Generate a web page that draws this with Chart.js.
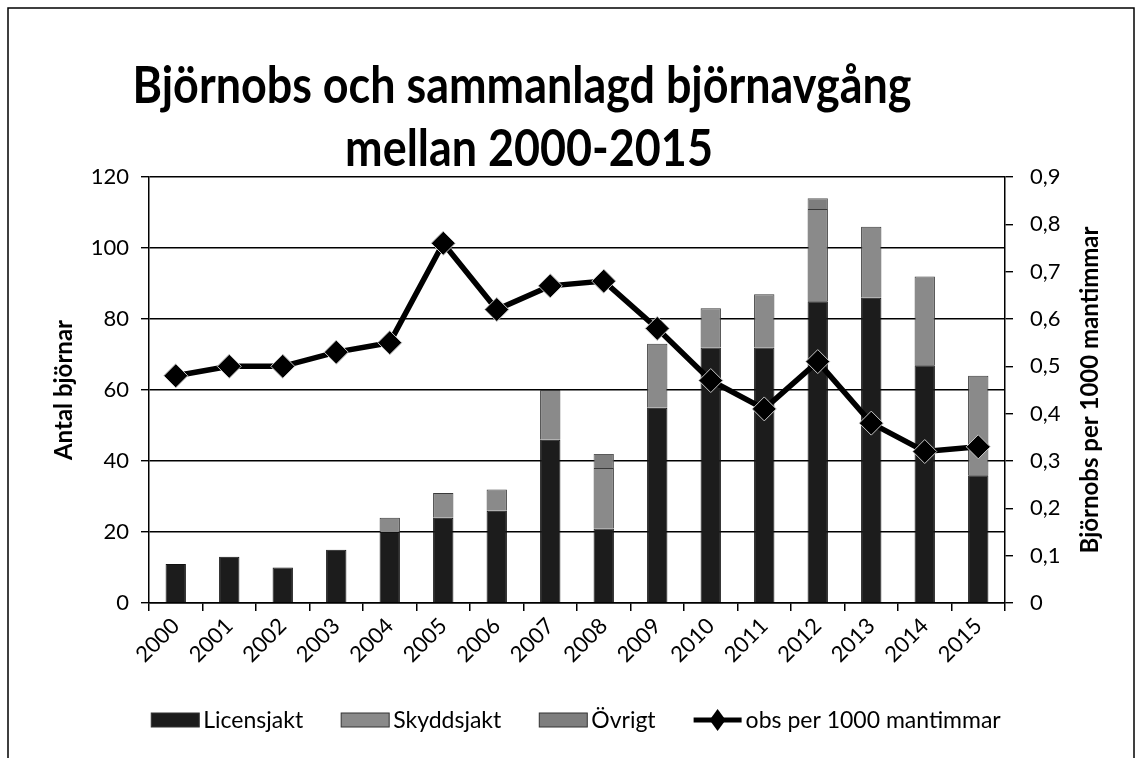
<!DOCTYPE html>
<html>
<head>
<meta charset="utf-8">
<script src="https://cdn.jsdelivr.net/npm/chart.js@4/dist/chart.umd.min.js"></script>
<style>
  html, body { margin: 0; padding: 0; background: #fff; }
  #c { display: block; }
</style>
</head>
<body>
<canvas id="c" width="1141" height="758"></canvas>
<script>
// data
const years = ['2000','2001','2002','2003','2004','2005','2006','2007','2008','2009','2010','2011','2012','2013','2014','2015'];
const licensjakt = [11, 13, 10, 15, 20, 24, 26, 46, 21, 55, 72, 72, 85, 86, 67, 36];
const skyddsjakt = [0, 0, 0, 0, 4, 7, 6, 14, 17, 18, 11, 15, 26, 20, 25, 28];
const ovrigt     = [0, 0, 0, 0, 0, 0, 0, 0, 4, 0, 0, 0, 3, 0, 0, 0];
const obsPer1000 = [0.48, 0.50, 0.50, 0.53, 0.55, 0.76, 0.62, 0.67, 0.68, 0.58, 0.47, 0.41, 0.51, 0.38, 0.32, 0.33];

const titleLines = ['Björnobs och sammanlagd björnavgång', 'mellan 2000-2015'];
const leftTitle = 'Antal björnar';
const rightTitle = 'Björnobs per 1000 mantimmar';

const FONT = 'Lato, "Open Sans", sans-serif';

// frame, title, right axis title and legend drawn on the canvas
const decor = {
  id: 'decor',
  beforeDraw(chart){
    const ctx = chart.ctx;
    ctx.save();
    ctx.fillStyle = '#fff';
    ctx.fillRect(0, 0, chart.width, chart.height);
    ctx.restore();
  },
  afterDraw(chart){
    const ctx = chart.ctx;
    ctx.save();
    // outer frame
    ctx.strokeStyle = '#000';
    ctx.lineWidth = 1.5;
    ctx.strokeRect(8, 8, 1126, 770);

    // title (squeezed a little, the original face is narrower)
    ctx.fillStyle = '#000';
    ctx.textAlign = 'center';
    ctx.textBaseline = 'alphabetic';
    ctx.font = 'bold 51px ' + FONT;
    ctx.save();
    ctx.scale(0.88, 1);
    ctx.fillText(titleLines[0], 522 / 0.88, 103);
    ctx.fillText(titleLines[1], 529 / 0.88, 166);
    ctx.restore();

    // right axis title, reading bottom to top
    const area = chart.chartArea;
    ctx.save();
    ctx.translate(1090, (area.top + area.bottom) / 2);
    ctx.rotate(-Math.PI / 2);
    ctx.font = 'bold 24px ' + FONT;
    ctx.textBaseline = 'middle';
    ctx.fillText(rightTitle, 0, 0);
    ctx.restore();

    // legend
    ctx.font = '23px ' + FONT;
    ctx.textAlign = 'left';
    ctx.textBaseline = 'middle';
    const ds = chart.data.datasets;
    const order = [1, 2, 3, 0];
    const boxW = 48, gap = 38, ly = 720;
    let total = 0;
    order.forEach((i, k) => {
      total += boxW + 4 + ctx.measureText(ds[i].label).width + (k < order.length - 1 ? gap : 0);
    });
    let x = 576 - total / 2;
    order.forEach(i => {
      const d = ds[i];
      if (d.type === 'line') {
        ctx.strokeStyle = '#000';
        ctx.lineWidth = 5;
        ctx.beginPath();
        ctx.moveTo(x, ly);
        ctx.lineTo(x + boxW, ly);
        ctx.stroke();
        ctx.fillStyle = '#000';
        ctx.beginPath();
        ctx.moveTo(x + boxW / 2, ly - 11);
        ctx.lineTo(x + boxW / 2 + 8, ly);
        ctx.lineTo(x + boxW / 2, ly + 11);
        ctx.lineTo(x + boxW / 2 - 8, ly);
        ctx.closePath();
        ctx.fill();
      } else {
        ctx.fillStyle = d.backgroundColor;
        ctx.fillRect(x, ly - 7, boxW, 14);
        ctx.strokeStyle = '#333';
        ctx.lineWidth = 1;
        ctx.strokeRect(x, ly - 7, boxW, 14);
      }
      x += boxW + 4;
      ctx.fillStyle = '#000';
      ctx.fillText(d.label, x, ly + 1);
      x += ctx.measureText(d.label).width + gap;
    });
    ctx.restore();
  }
};

const tickFont = { family: FONT, size: 22 };

new Chart(document.getElementById('c').getContext('2d'), {
  data: {
    labels: years,
    datasets: [
      {
        type: 'line',
        label: 'obs per 1000 mantimmar',
        data: obsPer1000,
        yAxisID: 'y1',
        borderColor: '#000',
        borderWidth: 5.5,
        pointStyle: 'rectRot',
        pointRadius: 12,
        pointBackgroundColor: '#000',
        pointBorderColor: '#c8c8c8',
        pointBorderWidth: 1,
        tension: 0,
        order: 0
      },
      {
        type: 'bar',
        label: 'Licensjakt',
        data: licensjakt,
        backgroundColor: '#1c1c1c',
        borderColor: '#111',
        borderWidth: 1,
        yAxisID: 'y',
        stack: 's',
        barPercentage: 0.38,
        categoryPercentage: 1,
        order: 1
      },
      {
        type: 'bar',
        label: 'Skyddsjakt',
        data: skyddsjakt,
        backgroundColor: '#8a8a8a',
        borderColor: '#3a3a3a',
        borderWidth: 1,
        yAxisID: 'y',
        stack: 's',
        barPercentage: 0.38,
        categoryPercentage: 1,
        order: 1
      },
      {
        type: 'bar',
        label: 'Övrigt',
        data: ovrigt,
        backgroundColor: '#7e7e7e',
        borderColor: '#5a5a5a',
        borderWidth: 1,
        yAxisID: 'y',
        stack: 's',
        barPercentage: 0.38,
        categoryPercentage: 1,
        order: 1
      }
    ]
  },
  options: {
    responsive: false,
    devicePixelRatio: 1,
    animation: false,
    layout: { padding: { left: 50, right: 0, top: 177, bottom: 0 } },
    plugins: {
      legend: { display: false },
      title: { display: false },
      tooltip: { enabled: false }
    },
    scales: {
      x: {
        stacked: true,
        offset: true,
        grid: { drawOnChartArea: false, offset: true, tickLength: 8, color: '#000', lineWidth: 1.5 },
        border: { color: '#000', width: 1.5 },
        ticks: { autoSkip: false, minRotation: 45, maxRotation: 45, font: tickFont, color: '#000', padding: 2 },
        afterFit(s){ s.height = 155; }
      },
      y: {
        stacked: true,
        position: 'left',
        min: 0,
        max: 120,
        ticks: { stepSize: 20, font: tickFont, color: '#000', padding: 12 },
        grid: { color: '#000', lineWidth: 1.4, tickLength: 8 },
        border: { color: '#000', width: 1.5 },
        title: { display: true, text: leftTitle, color: '#000', font: { family: FONT, size: 24, weight: 'bold' }, padding: { top: 0, bottom: 0 } },
        afterFit(s){ s.width = 99; }
      },
      y1: {
        position: 'right',
        min: 0,
        max: 0.9,
        ticks: {
          stepSize: 0.1,
          font: tickFont,
          color: '#000',
          padding: 17,
          callback: v => String(Math.round(v * 10) / 10).replace('.', ',')
        },
        grid: { drawOnChartArea: false, tickLength: 8, color: '#000', lineWidth: 1.4 },
        border: { color: '#000', width: 1.5 },
        afterFit(s){ s.width = 136; }
      }
    }
  },
  plugins: [decor]
});
</script>
</body>
</html>
